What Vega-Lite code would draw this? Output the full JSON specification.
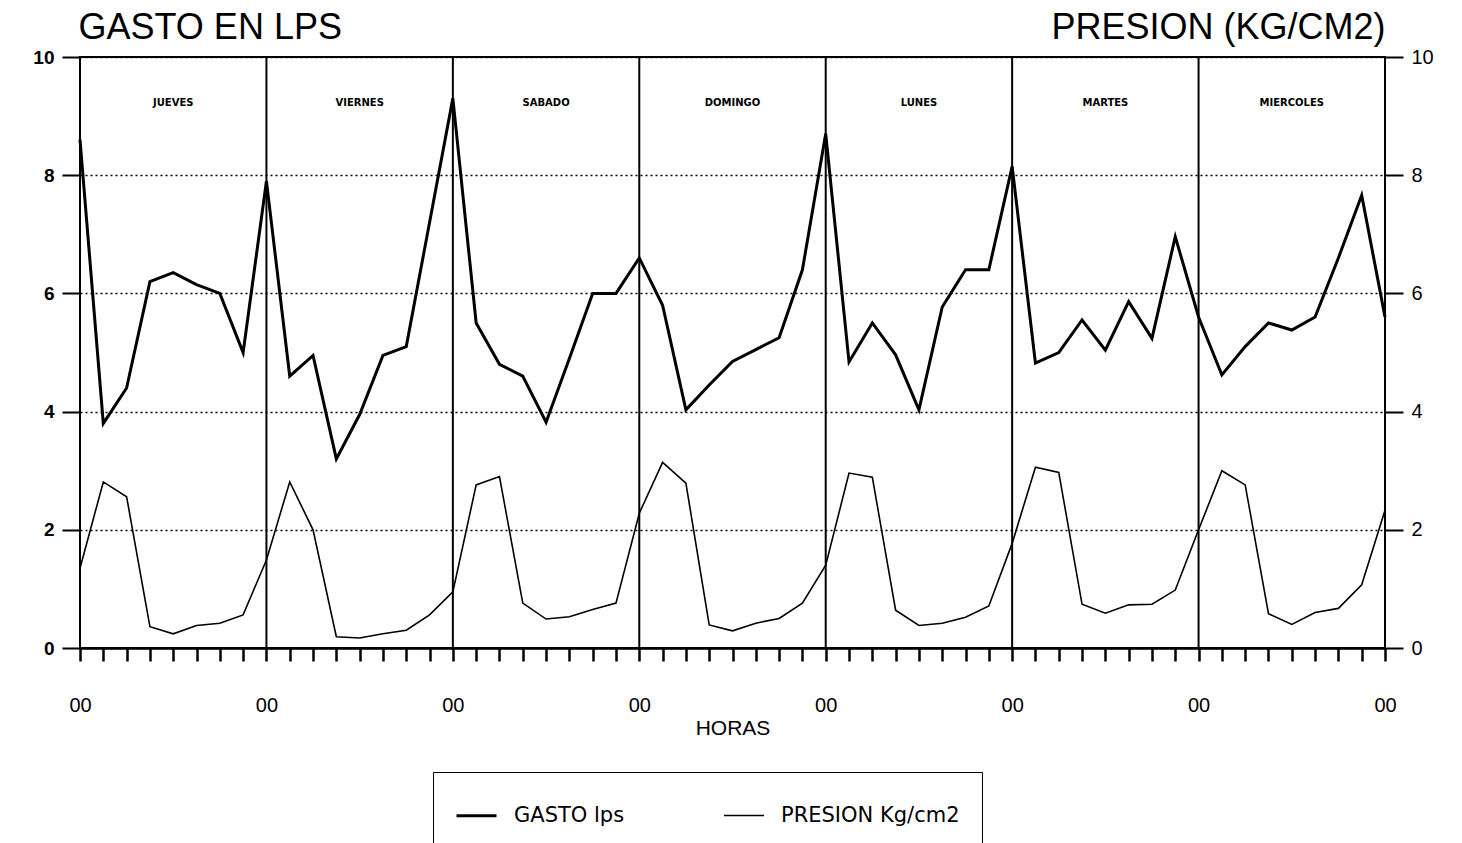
{
  "$schema": "https://vega.github.io/schema/vega-lite/v6.json",
  "width": 1305,
  "height": 591,
  "autosize": {"type": "none"},
  "padding": {"left": 80, "top": 57, "right": 77, "bottom": 195},
  "background": "white",
  "config": {
    "view": {"stroke": "black", "strokeWidth": 2},
    "font": "Liberation Sans",
    "axis": {"labelColor": "black", "titleColor": "black", "tickColor": "black", "domainColor": "black", "labelFont": "Liberation Sans", "titleFont": "Liberation Sans"}
  },
  "datasets": {
    "serie": [
      {"h": 0, "serie": "GASTO lps", "valor": 8.6}, {"h": 3, "serie": "GASTO lps", "valor": 3.8}, {"h": 6, "serie": "GASTO lps", "valor": 4.4}, {"h": 9, "serie": "GASTO lps", "valor": 6.2}, {"h": 12, "serie": "GASTO lps", "valor": 6.35}, {"h": 15, "serie": "GASTO lps", "valor": 6.15}, {"h": 18, "serie": "GASTO lps", "valor": 6.0}, {"h": 21, "serie": "GASTO lps", "valor": 5.0}, {"h": 24, "serie": "GASTO lps", "valor": 7.9},
      {"h": 27, "serie": "GASTO lps", "valor": 4.6}, {"h": 30, "serie": "GASTO lps", "valor": 4.95}, {"h": 33, "serie": "GASTO lps", "valor": 3.2}, {"h": 36, "serie": "GASTO lps", "valor": 3.95}, {"h": 39, "serie": "GASTO lps", "valor": 4.95}, {"h": 42, "serie": "GASTO lps", "valor": 5.1}, {"h": 45, "serie": "GASTO lps", "valor": 7.2}, {"h": 48, "serie": "GASTO lps", "valor": 9.3},
      {"h": 51, "serie": "GASTO lps", "valor": 5.5}, {"h": 54, "serie": "GASTO lps", "valor": 4.8}, {"h": 57, "serie": "GASTO lps", "valor": 4.6}, {"h": 60, "serie": "GASTO lps", "valor": 3.82}, {"h": 63, "serie": "GASTO lps", "valor": 4.9}, {"h": 66, "serie": "GASTO lps", "valor": 6.0}, {"h": 69, "serie": "GASTO lps", "valor": 6.0}, {"h": 72, "serie": "GASTO lps", "valor": 6.6},
      {"h": 75, "serie": "GASTO lps", "valor": 5.8}, {"h": 78, "serie": "GASTO lps", "valor": 4.03}, {"h": 81, "serie": "GASTO lps", "valor": 4.45}, {"h": 84, "serie": "GASTO lps", "valor": 4.85}, {"h": 87, "serie": "GASTO lps", "valor": 5.05}, {"h": 90, "serie": "GASTO lps", "valor": 5.25}, {"h": 93, "serie": "GASTO lps", "valor": 6.4}, {"h": 96, "serie": "GASTO lps", "valor": 8.7},
      {"h": 99, "serie": "GASTO lps", "valor": 4.84}, {"h": 102, "serie": "GASTO lps", "valor": 5.5}, {"h": 105, "serie": "GASTO lps", "valor": 4.96}, {"h": 108, "serie": "GASTO lps", "valor": 4.03}, {"h": 111, "serie": "GASTO lps", "valor": 5.77}, {"h": 114, "serie": "GASTO lps", "valor": 6.4}, {"h": 117, "serie": "GASTO lps", "valor": 6.4}, {"h": 120, "serie": "GASTO lps", "valor": 8.15},
      {"h": 123, "serie": "GASTO lps", "valor": 4.82}, {"h": 126, "serie": "GASTO lps", "valor": 5.0}, {"h": 129, "serie": "GASTO lps", "valor": 5.55}, {"h": 132, "serie": "GASTO lps", "valor": 5.04}, {"h": 135, "serie": "GASTO lps", "valor": 5.86}, {"h": 138, "serie": "GASTO lps", "valor": 5.24}, {"h": 141, "serie": "GASTO lps", "valor": 6.96}, {"h": 144, "serie": "GASTO lps", "valor": 5.6},
      {"h": 147, "serie": "GASTO lps", "valor": 4.62}, {"h": 150, "serie": "GASTO lps", "valor": 5.1}, {"h": 153, "serie": "GASTO lps", "valor": 5.5}, {"h": 156, "serie": "GASTO lps", "valor": 5.38}, {"h": 159, "serie": "GASTO lps", "valor": 5.6}, {"h": 162, "serie": "GASTO lps", "valor": 6.6}, {"h": 165, "serie": "GASTO lps", "valor": 7.66}, {"h": 168, "serie": "GASTO lps", "valor": 5.6},
      {"h": 0, "serie": "PRESION Kg/cm2", "valor": 1.35}, {"h": 3, "serie": "PRESION Kg/cm2", "valor": 2.81}, {"h": 6, "serie": "PRESION Kg/cm2", "valor": 2.56}, {"h": 9, "serie": "PRESION Kg/cm2", "valor": 0.36}, {"h": 12, "serie": "PRESION Kg/cm2", "valor": 0.24}, {"h": 15, "serie": "PRESION Kg/cm2", "valor": 0.38}, {"h": 18, "serie": "PRESION Kg/cm2", "valor": 0.42}, {"h": 21, "serie": "PRESION Kg/cm2", "valor": 0.56}, {"h": 24, "serie": "PRESION Kg/cm2", "valor": 1.49},
      {"h": 27, "serie": "PRESION Kg/cm2", "valor": 2.81}, {"h": 30, "serie": "PRESION Kg/cm2", "valor": 2.0}, {"h": 33, "serie": "PRESION Kg/cm2", "valor": 0.19}, {"h": 36, "serie": "PRESION Kg/cm2", "valor": 0.17}, {"h": 39, "serie": "PRESION Kg/cm2", "valor": 0.24}, {"h": 42, "serie": "PRESION Kg/cm2", "valor": 0.3}, {"h": 45, "serie": "PRESION Kg/cm2", "valor": 0.56}, {"h": 48, "serie": "PRESION Kg/cm2", "valor": 0.95},
      {"h": 51, "serie": "PRESION Kg/cm2", "valor": 2.76}, {"h": 54, "serie": "PRESION Kg/cm2", "valor": 2.9}, {"h": 57, "serie": "PRESION Kg/cm2", "valor": 0.76}, {"h": 60, "serie": "PRESION Kg/cm2", "valor": 0.49}, {"h": 63, "serie": "PRESION Kg/cm2", "valor": 0.53}, {"h": 66, "serie": "PRESION Kg/cm2", "valor": 0.65}, {"h": 69, "serie": "PRESION Kg/cm2", "valor": 0.76}, {"h": 72, "serie": "PRESION Kg/cm2", "valor": 2.28},
      {"h": 75, "serie": "PRESION Kg/cm2", "valor": 3.14}, {"h": 78, "serie": "PRESION Kg/cm2", "valor": 2.79}, {"h": 81, "serie": "PRESION Kg/cm2", "valor": 0.39}, {"h": 84, "serie": "PRESION Kg/cm2", "valor": 0.29}, {"h": 87, "serie": "PRESION Kg/cm2", "valor": 0.42}, {"h": 90, "serie": "PRESION Kg/cm2", "valor": 0.5}, {"h": 93, "serie": "PRESION Kg/cm2", "valor": 0.76}, {"h": 96, "serie": "PRESION Kg/cm2", "valor": 1.4},
      {"h": 99, "serie": "PRESION Kg/cm2", "valor": 2.96}, {"h": 102, "serie": "PRESION Kg/cm2", "valor": 2.89}, {"h": 105, "serie": "PRESION Kg/cm2", "valor": 0.64}, {"h": 108, "serie": "PRESION Kg/cm2", "valor": 0.38}, {"h": 111, "serie": "PRESION Kg/cm2", "valor": 0.42}, {"h": 114, "serie": "PRESION Kg/cm2", "valor": 0.52}, {"h": 117, "serie": "PRESION Kg/cm2", "valor": 0.71}, {"h": 120, "serie": "PRESION Kg/cm2", "valor": 1.77},
      {"h": 123, "serie": "PRESION Kg/cm2", "valor": 3.06}, {"h": 126, "serie": "PRESION Kg/cm2", "valor": 2.97}, {"h": 129, "serie": "PRESION Kg/cm2", "valor": 0.74}, {"h": 132, "serie": "PRESION Kg/cm2", "valor": 0.59}, {"h": 135, "serie": "PRESION Kg/cm2", "valor": 0.73}, {"h": 138, "serie": "PRESION Kg/cm2", "valor": 0.74}, {"h": 141, "serie": "PRESION Kg/cm2", "valor": 0.98}, {"h": 144, "serie": "PRESION Kg/cm2", "valor": 2.0},
      {"h": 147, "serie": "PRESION Kg/cm2", "valor": 3.0}, {"h": 150, "serie": "PRESION Kg/cm2", "valor": 2.76}, {"h": 153, "serie": "PRESION Kg/cm2", "valor": 0.58}, {"h": 156, "serie": "PRESION Kg/cm2", "valor": 0.4}, {"h": 159, "serie": "PRESION Kg/cm2", "valor": 0.6}, {"h": 162, "serie": "PRESION Kg/cm2", "valor": 0.67}, {"h": 165, "serie": "PRESION Kg/cm2", "valor": 1.07}, {"h": 168, "serie": "PRESION Kg/cm2", "valor": 2.33}
    ],
    "cortes": [{"h": 0}, {"h": 24}, {"h": 48}, {"h": 72}, {"h": 96}, {"h": 120}, {"h": 144}, {"h": 168}],
    "dias": [
      {"h": 12, "dia": "JUEVES"}, {"h": 36, "dia": "VIERNES"}, {"h": 60, "dia": "SABADO"}, {"h": 84, "dia": "DOMINGO"},
      {"h": 108, "dia": "LUNES"}, {"h": 132, "dia": "MARTES"}, {"h": 156, "dia": "MIERCOLES"}
    ]
  },
  "layer": [
    {
      "data": {"name": "cortes"},
      "mark": {"type": "rule", "color": "black", "strokeWidth": 2},
      "encoding": {
        "x": {"field": "h", "type": "quantitative", "scale": {"domain": [0, 168], "nice": false}}
      }
    },
    {
      "data": {"name": "serie"},
      "transform": [{"filter": "datum.serie === 'GASTO lps'"}],
      "mark": {"type": "line", "color": "black", "strokeJoin": "miter"},
      "encoding": {
        "x": {
          "field": "h", "type": "quantitative",
          "scale": {"domain": [0, 168], "nice": false},
          "axis": {
            "values": [0,3,6,9,12,15,18,21,24,27,30,33,36,39,42,45,48,51,54,57,60,63,66,69,72,75,78,81,84,87,90,93,96,99,102,105,108,111,114,117,120,123,126,129,132,135,138,141,144,147,150,153,156,159,162,165,168],
            "tickCount": 200,
            "labelExpr": "datum.value % 24 === 0 ? '00' : ''",
            "grid": false,
            "tickSize": 13, "tickWidth": 2.5,
            "domainWidth": 2.5,
            "labelFontSize": 20, "labelPadding": 34, "labelFlush": false, "labelOverlap": false,
            "title": "HORAS", "titleFontSize": 21, "titleFontWeight": "normal", "titlePadding": 2
          }
        },
        "y": {
          "field": "valor", "type": "quantitative",
          "scale": {"domain": [0, 10], "nice": false},
          "axis": {
            "values": [0, 2, 4, 6, 8, 10],
            "grid": true, "gridColor": "black", "gridDash": [2, 3], "gridWidth": 1.5,
            "domain": false, "tickSize": 18, "tickWidth": 2,
            "labelFontSize": 19, "labelFontWeight": "bold", "labelPadding": 8,
            "title": "GASTO EN LPS", "titleAngle": 0, "titleAlign": "left", "titleBaseline": "middle",
            "titleX": -2, "titleY": -30, "titleFontSize": 36, "titleFontWeight": "normal"
          }
        },
        "strokeWidth": {
          "field": "serie", "type": "nominal",
          "scale": {"domain": ["GASTO lps", "PRESION Kg/cm2"], "range": [3, 1.6]},
          "legend": {
            "orient": "none", "legendX": 353, "legendY": 715, "direction": "horizontal",
            "title": null, "symbolType": "stroke", "symbolSize": 1600, "symbolStrokeColor": "black",
            "labelFontSize": 21, "labelFont": "DejaVu Sans", "labelColor": "black", "labelOffset": 16, "labelLimit": 0,
            "columnPadding": 95, "padding": 22, "strokeColor": "black", "fillColor": "white"
          }
        }
      }
    },
    {
      "data": {"name": "serie"},
      "transform": [{"filter": "datum.serie === 'PRESION Kg/cm2'"}],
      "mark": {"type": "line", "color": "black"},
      "encoding": {
        "x": {"field": "h", "type": "quantitative", "scale": {"domain": [0, 168], "nice": false}},
        "y": {
          "field": "valor", "type": "quantitative",
          "scale": {"domain": [0, 10], "nice": false},
          "axis": {
            "orient": "right",
            "values": [0, 2, 4, 6, 8, 10],
            "grid": false, "domain": false, "tickSize": 18, "tickWidth": 2,
            "labelFontSize": 20, "labelPadding": 8,
            "title": "PRESION (KG/CM2)", "titleAngle": 0, "titleAlign": "right", "titleBaseline": "middle",
            "titleX": 0, "titleY": -30, "titleFontSize": 36, "titleFontWeight": "normal"
          }
        },
        "strokeWidth": {"field": "serie", "type": "nominal"}
      }
    },
    {
      "data": {"name": "dias"},
      "mark": {"type": "text", "font": "DejaVu Sans", "fontWeight": "bold", "fontSize": 10, "color": "black"},
      "encoding": {
        "x": {"field": "h", "type": "quantitative", "scale": {"domain": [0, 168], "nice": false}},
        "y": {"datum": 9.22, "type": "quantitative", "scale": {"domain": [0, 10], "nice": false}, "axis": null},
        "text": {"field": "dia"}
      }
    }
  ],
  "resolve": {"scale": {"y": "independent"}}
}
